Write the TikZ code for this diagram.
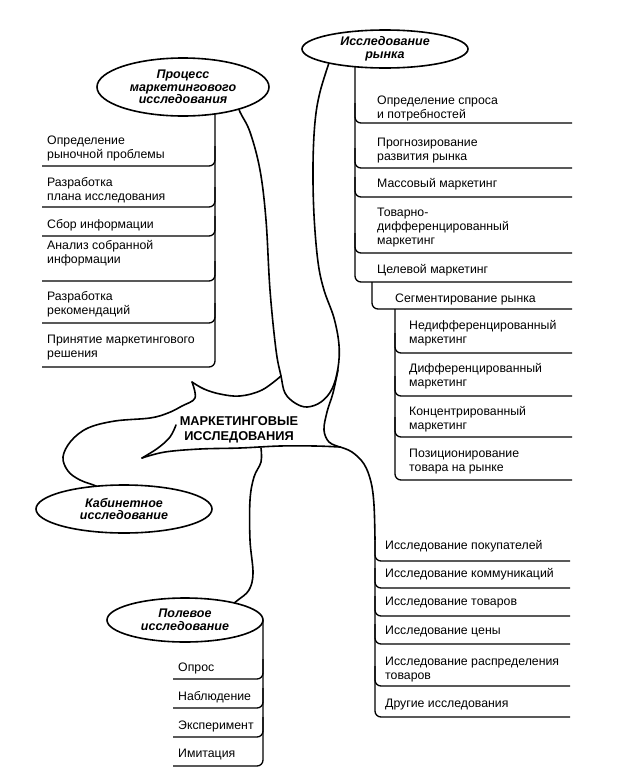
\documentclass[tikz,border=0pt]{standalone}
\usepackage{fontspec}
\setmainfont{Liberation Sans}
\usetikzlibrary{shapes.geometric}
\begin{document}
\begin{tikzpicture}[x=1pt,y=-1pt,
  oval/.style={draw, fill=white, ellipse, line width=1.6pt, inner sep=0pt, align=center,
     font=\fontsize{12.5}{12.5}\selectfont\bfseries\itshape},
  item/.style={anchor=base west, inner sep=0pt, align=left, font=\fontsize{12.3}{14}\selectfont},
  rule/.style={line width=1.3pt, rounded corners=6pt},
  blob/.style={line width=1.6pt, line cap=round, line join=round},
]
\useasboundingbox (0,0) rectangle (622,777);

% ---------- left list (process)
\draw[rule] (215,90) -- (215,367) -- (42,367);
\foreach \y in {166,207,236,281,323} \draw[rule] (42,\y) -- (215,\y) -- (215,\y-20);
\node[item] (i1) at (47,158) {Определение\\рыночной проблемы};
\node[item] (i2) at (47,200) {Разработка\\плана исследования};
\node[item] (i3) at (47,228) {Сбор информации};
\node[item] (i4) at (47,263) {Анализ собранной\\информации};
\node[item] (i5) at (47,314) {Разработка\\рекомендаций};
\node[item] (i6) at (47,357) {Принятие маркетингового\\решения};

% ---------- right list (market)
\draw[rule] (355,50) -- (355,282) -- (572,282);
\foreach \y in {123,168,197,253} \draw[rule] (572,\y) -- (355,\y) -- (355,\y-20);
\draw[rule] (372,282) -- (372,309) -- (572,309);
\draw[rule] (395,309) -- (395,480) -- (572,480);
\foreach \y in {353,396,437} \draw[rule] (572,\y) -- (395,\y) -- (395,\y-20);
\node[item] (r1) at (377,118) {Определение спроса\\и потребностей};
\node[item] (r2) at (377,160) {Прогнозирование\\развития рынка};
\node[item] (r3) at (377,187) {Массовый маркетинг};
\node[item] (r4) at (377,244) {Товарно-\\дифференцированный\\маркетинг};
\node[item] (r5) at (377,273) {Целевой маркетинг};
\node[item] (s0) at (395,302) {Сегментирование рынка};
\node[item] (s1) at (409,343) {Недифференцированный\\маркетинг};
\node[item] (s2) at (409,386) {Дифференцированный\\маркетинг};
\node[item] (s3) at (409,429) {Концентрированный\\маркетинг};
\node[item] (s4) at (409,471) {Позиционирование\\товара на рынке};

% ---------- bottom right list
\draw[rule] (375,540) -- (375,717) -- (570,717);
\foreach \y in {561,588,616,644,686} \draw[rule] (570,\y) -- (375,\y) -- (375,\y-20);
\node[item] (b1) at (385,549) {Исследование покупателей};
\node[item] (b2) at (385,577) {Исследование коммуникаций};
\node[item] (b3) at (385,605) {Исследование товаров};
\node[item] (b4) at (385,634) {Исследование цены};
\node[item] (b5) at (385,679) {Исследование распределения\\товаров};
\node[item] (b6) at (385,707) {Другие исследования};

% ---------- field list
\draw[rule] (263,620) -- (263,766) -- (173,766);
\foreach \y in {679,708,737} \draw[rule] (173,\y) -- (263,\y) -- (263,\y-20);
\node[item] (p1) at (178,671) {Опрос};
\node[item] (p2) at (178,700) {Наблюдение};
\node[item] (p3) at (178,729) {Эксперимент};
\node[item] (p4) at (178,757) {Имитация};

% ---------- central burst
\draw[blob] plot[smooth, tension=0.6] coordinates {(236,100) (240,112) (250,132) (260,170) (266,220) (270,290) (276,350) (281,376) (285,393) (295,403) (307,407) (321,402) (332,389) (338,368) (339,345) (334,318) (324,290) (318,262) (314,215) (313,165) (315,122) (320,92) (330,60)};
\draw[blob] plot[smooth, tension=0.6] coordinates {(281,376) (262,390) (240,396) (220,394) (204,389) (192,382)};
\draw[blob] plot[smooth, tension=0.6] coordinates {(192,382) (195,398) (182,406) (168,413) (150,418) (115,421) (88,428) (71,441) (63,457) (68,471) (80,480) (98,487) (105,495)};
\draw[blob] plot[smooth, tension=0.6] coordinates {(176,425) (170,437) (158,448) (142,458)};
\draw[blob] plot[smooth, tension=0.6] coordinates {(142,458) (165,452) (200,449) (240,448) (280,446) (315,446) (340,447)};
\draw[blob] plot[smooth, tension=0.6] coordinates {(338,370) (333,393) (327,412) (324,430) (329,442) (340,447)};
\draw[blob] plot[smooth, tension=0.6] coordinates {(340,447) (352,452) (364,464) (371,482) (374,505) (375,540)};
\draw[blob] plot[smooth, tension=0.6] coordinates {(261,448) (261,462) (254,477) (250,500) (250,540) (253,573) (249,590) (238,600) (230,606)};
\node[font=\fontsize{12.8}{15}\selectfont\bfseries, align=center] (core) at (239,430) {МАРКЕТИНГОВЫЕ\\ИССЛЕДОВАНИЯ};

% ---------- ellipses
\node[oval, minimum width=172pt, minimum height=58pt] (proc) at (183,87) {Процесс\\маркетингового\\исследования};
\node[oval, minimum width=166pt, minimum height=38pt] (mkt) at (385,49) {Исследование\\рынка};
\node[oval, minimum width=176pt, minimum height=48pt] (kab) at (124,509) {Кабинетное\\исследование};
\node[oval, minimum width=156pt, minimum height=44pt] (pole) at (185,620) {Полевое\\исследование};
\end{tikzpicture}
\end{document}
